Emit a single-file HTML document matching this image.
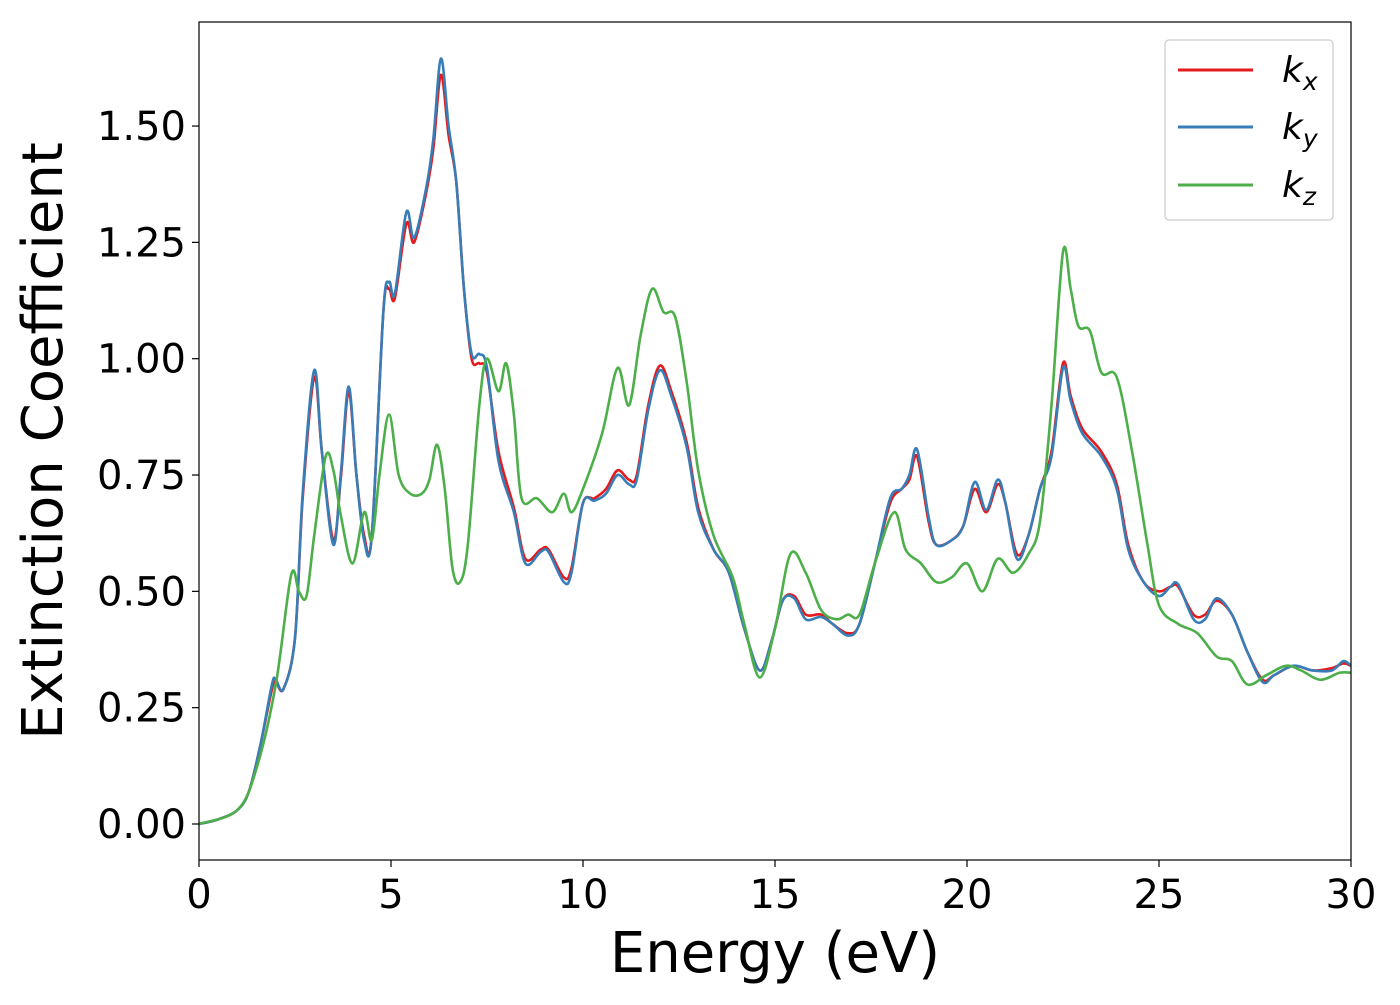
<!DOCTYPE html>
<html><head><meta charset="utf-8"><style>
body{margin:0;background:#fff;font-family:"Liberation Sans","DejaVu Sans",sans-serif}
svg text{font-family:"DejaVu Sans","Liberation Sans",sans-serif;fill:#000}
</style></head><body>
<svg id="chart" width="1400" height="1000" xmlns="http://www.w3.org/2000/svg">
<rect x="199" y="22" width="1152" height="838" fill="#fff"/>
<g id="series"></g>
<rect x="199" y="22" width="1152" height="838" fill="none" stroke="#000" stroke-width="1.2"/>
<g id="xticks"></g>
<g id="yticks"></g>
<text x="775" y="972" font-size="56" text-anchor="middle">Energy (eV)</text>
<text transform="translate(62,441) rotate(-90)" font-size="56" text-anchor="middle">Extinction Coefficient</text>
<g>
<rect x="1165" y="40" width="168" height="180" rx="4" fill="#fff" stroke="#ccc" stroke-width="1.2"/>
<line x1="1178" y1="70" x2="1253" y2="70" stroke="#e41a1c" stroke-width="3"/>
<text x="1282" y="82" font-size="36" font-style="italic">k<tspan font-size="25" dy="8">x</tspan></text>
<line x1="1178" y1="127" x2="1253" y2="127" stroke="#377eb8" stroke-width="3"/>
<text x="1282" y="139" font-size="36" font-style="italic">k<tspan font-size="25" dy="8">y</tspan></text>
<line x1="1178" y1="185" x2="1253" y2="185" stroke="#4daf4a" stroke-width="3"/>
<text x="1282" y="197" font-size="36" font-style="italic">k<tspan font-size="25" dy="8">z</tspan></text>
</g>
</svg>
<script>
const xTicks=[0,5,10,15,20,25,30];
const yTicks=[0,0.25,0.5,0.75,1.0,1.25,1.5];
const yTickLabels=["0.00","0.25","0.50","0.75","1.00","1.25","1.50"];
const kxE=[0,0.5,1,1.3,1.6,1.9,2.0,2.2,2.5,2.7,3.0,3.2,3.5,3.7,3.9,4.1,4.3,4.5,4.8,4.95,5.1,5.4,5.6,5.9,6.1,6.3,6.5,6.7,6.9,7.1,7.3,7.5,7.8,8.2,8.5,8.9,9.1,9.5,9.7,10.0,10.3,10.6,10.9,11.2,11.4,11.7,12.0,12.3,12.7,13.0,13.4,13.8,14.2,14.6,14.9,15.2,15.5,15.8,16.2,16.5,16.9,17.2,17.6,18.0,18.3,18.5,18.7,19.0,19.2,19.6,19.9,20.2,20.5,20.8,21.0,21.3,21.6,21.9,22.2,22.5,22.7,23.0,23.5,23.9,24.2,24.6,25.0,25.3,25.5,25.9,26.2,26.5,26.9,27.3,27.7,28.0,28.5,29.0,29.5,29.8,30];
const kxV=[0,0.01,0.03,0.07,0.17,0.29,0.305,0.29,0.4,0.7,0.96,0.8,0.61,0.75,0.93,0.75,0.62,0.62,1.1,1.15,1.13,1.29,1.25,1.35,1.45,1.61,1.48,1.38,1.15,1.0,0.99,0.97,0.8,0.68,0.57,0.59,0.59,0.53,0.55,0.69,0.70,0.72,0.76,0.74,0.75,0.9,0.985,0.93,0.82,0.68,0.59,0.54,0.42,0.33,0.39,0.48,0.49,0.45,0.45,0.43,0.41,0.43,0.56,0.69,0.72,0.74,0.79,0.65,0.6,0.61,0.64,0.72,0.67,0.73,0.69,0.58,0.62,0.72,0.8,0.99,0.92,0.85,0.8,0.73,0.6,0.52,0.5,0.51,0.51,0.45,0.45,0.48,0.45,0.37,0.31,0.32,0.34,0.33,0.335,0.345,0.34];
const kyE=kxE;
const kyV=[0,0.01,0.03,0.07,0.17,0.3,0.31,0.29,0.4,0.71,0.975,0.8,0.6,0.76,0.94,0.75,0.61,0.62,1.1,1.165,1.14,1.315,1.26,1.36,1.47,1.645,1.5,1.38,1.15,1.01,1.01,0.98,0.78,0.67,0.56,0.585,0.585,0.52,0.54,0.69,0.695,0.71,0.75,0.73,0.74,0.89,0.975,0.92,0.81,0.67,0.59,0.54,0.42,0.33,0.39,0.48,0.485,0.44,0.445,0.43,0.405,0.43,0.56,0.7,0.72,0.75,0.805,0.66,0.6,0.61,0.64,0.735,0.675,0.74,0.69,0.57,0.62,0.72,0.79,0.98,0.91,0.84,0.79,0.72,0.59,0.52,0.49,0.51,0.515,0.44,0.44,0.485,0.45,0.37,0.305,0.32,0.34,0.33,0.33,0.35,0.34];
const kzE=[0,1,1.5,2.0,2.4,2.6,2.8,3.0,3.3,3.5,3.7,4.0,4.3,4.5,4.7,4.95,5.2,5.5,5.8,6.0,6.2,6.4,6.6,6.8,7.0,7.3,7.5,7.8,8.0,8.2,8.4,8.8,9.2,9.5,9.7,10.0,10.5,10.9,11.2,11.5,11.8,12.1,12.4,12.7,13.0,13.4,13.9,14.2,14.6,15.0,15.4,15.8,16.2,16.6,16.9,17.2,17.6,18.1,18.4,18.8,19.2,19.6,20.0,20.4,20.8,21.2,21.6,21.9,22.2,22.5,22.7,22.9,23.2,23.5,23.9,24.3,24.7,25.0,25.5,26.0,26.5,26.9,27.3,27.8,28.3,28.7,29.2,29.7,30];
const kzV=[0,0.03,0.12,0.3,0.535,0.5,0.49,0.62,0.79,0.76,0.66,0.56,0.67,0.61,0.75,0.88,0.75,0.71,0.71,0.74,0.815,0.72,0.55,0.52,0.6,0.9,1.0,0.93,0.99,0.88,0.7,0.7,0.67,0.71,0.67,0.72,0.84,0.98,0.9,1.05,1.15,1.1,1.09,0.95,0.76,0.62,0.53,0.43,0.315,0.42,0.58,0.54,0.46,0.44,0.45,0.45,0.56,0.67,0.59,0.56,0.52,0.53,0.56,0.5,0.57,0.54,0.58,0.65,0.9,1.23,1.15,1.07,1.06,0.97,0.96,0.8,0.6,0.47,0.43,0.41,0.36,0.35,0.3,0.32,0.34,0.33,0.31,0.325,0.325];

const X=e=>199+e*(1152/30);
const Y=v=>824-v*465.3;
const NS="http://www.w3.org/2000/svg";
function pathFor(E,V){
  const p=E.map((e,i)=>[X(e),Y(V[i])]);
  let d=`M${p[0][0]},${p[0][1]}`;
  for(let i=0;i<p.length-1;i++){
    const p0=p[Math.max(0,i-1)],p1=p[i],p2=p[i+1],p3=p[Math.min(p.length-1,i+2)];
    const c1=[p1[0]+(p2[0]-p0[0])/6,p1[1]+(p2[1]-p0[1])/6];
    const c2=[p2[0]-(p3[0]-p1[0])/6,p2[1]-(p3[1]-p1[1])/6];
    d+=` C${c1[0]},${c1[1]} ${c2[0]},${c2[1]} ${p2[0]},${p2[1]}`;
  }
  return d;
}
const g=document.getElementById('series');
[[kxE,kxV,'#e41a1c','line-kx'],[kyE,kyV,'#377eb8','line-ky'],[kzE,kzV,'#4daf4a','line-kz']].forEach(s=>{
  const path=document.createElementNS(NS,'path');
  path.setAttribute('d',pathFor(s[0],s[1]));
  path.setAttribute('fill','none');
  path.setAttribute('stroke',s[2]);
  path.setAttribute('stroke-width','2.6');
  
  
  g.appendChild(path);
});
const xg=document.getElementById('xticks');
xTicks.forEach(t=>{
  const l=document.createElementNS(NS,'line');
  l.setAttribute('x1',X(t));l.setAttribute('x2',X(t));l.setAttribute('y1',860);l.setAttribute('y2',867);
  l.setAttribute('stroke','#000');l.setAttribute('stroke-width','1.2');
  
  
  xg.appendChild(l);
  const tx=document.createElementNS(NS,'text');
  tx.setAttribute('x',X(t));tx.setAttribute('y',908);tx.setAttribute('font-size','40');tx.setAttribute('text-anchor','middle');
  tx.textContent=t;
  
  
  xg.appendChild(tx);
});
const yg=document.getElementById('yticks');
yTicks.forEach((t,i)=>{
  const l=document.createElementNS(NS,'line');
  l.setAttribute('x1',192);l.setAttribute('x2',199);l.setAttribute('y1',Y(t));l.setAttribute('y2',Y(t));
  l.setAttribute('stroke','#000');l.setAttribute('stroke-width','1.2');
  
  
  yg.appendChild(l);
  const tx=document.createElementNS(NS,'text');
  tx.setAttribute('x',186);tx.setAttribute('y',Y(t)+14);tx.setAttribute('font-size','40');tx.setAttribute('text-anchor','end');
  tx.textContent=yTickLabels[i];
  
  
  yg.appendChild(tx);
});
</script>
</body></html>
